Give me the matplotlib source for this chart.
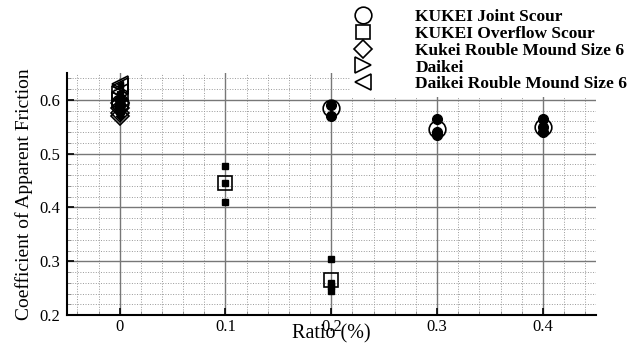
import matplotlib.pyplot as plt
from matplotlib.ticker import MultipleLocator

plt.rcParams['font.family'] = ['Liberation Serif', 'DejaVu Serif']

# mean values (open markers)
joint_x = [0.0, 0.2, 0.3, 0.4]
joint_mean = [0.595, 0.585, 0.545, 0.55]
overflow_x = [0.1, 0.2]
overflow_mean = [0.445, 0.265]
kukei_rm_x = [0.0, 0.0, 0.0, 0.0]
kukei_rm_y = [0.57, 0.575, 0.585, 0.595]
daikei_x = [0.0, 0.0]
daikei_y = [0.60, 0.61]
daikei_rm_x = [0.0, 0.0, 0.0]
daikei_rm_y = [0.615, 0.625, 0.63]

# individual measurements (filled markers)
joint_pts_x = [0.0, 0.0, 0.0, 0.2, 0.2, 0.3, 0.3, 0.3, 0.4, 0.4, 0.4]
joint_pts_y = [0.58, 0.59, 0.60, 0.59, 0.57, 0.565, 0.54, 0.535, 0.565, 0.55, 0.54]
overflow_pts_x = [0.1, 0.1, 0.1, 0.2, 0.2, 0.2, 0.2]
overflow_pts_y = [0.477, 0.445, 0.41, 0.305, 0.26, 0.255, 0.245]

legend_labels = ["KUKEI Joint Scour", "KUKEI Overflow Scour",
                 "Kukei Rouble Mound Size 6", "Daikei",
                 "Daikei Rouble Mound Size 6"]


def main():
    fig = plt.figure(figsize=(6.42, 3.49), dpi=100)
    ax = fig.add_axes([0.104, 0.097, 0.824, 0.694])

    ax.set_xlim(-0.05, 0.45)
    ax.set_ylim(0.2, 0.65)
    ax.xaxis.set_major_locator(MultipleLocator(0.1))
    ax.xaxis.set_minor_locator(MultipleLocator(0.02))
    ax.yaxis.set_major_locator(MultipleLocator(0.1))
    ax.yaxis.set_minor_locator(MultipleLocator(0.02))
    ax.set_xticks([0, 0.1, 0.2, 0.3, 0.4])
    ax.set_xticklabels(["0", "0.1", "0.2", "0.3", "0.4"])

    ax.grid(which='major', color='#777777', linewidth=1.0, linestyle='-')
    ax.grid(which='minor', color='#999999', linewidth=0.7, linestyle=':')
    ax.set_axisbelow(True)

    for side in ['top', 'right']:
        ax.spines[side].set_visible(False)
    for side in ['left', 'bottom']:
        ax.spines[side].set_linewidth(1.5)

    ax.tick_params(which='both', direction='in', labelsize=12)
    ax.tick_params(which='major', length=5, width=1.2)
    ax.tick_params(axis='x', which='major', pad=3)
    ax.tick_params(axis='y', which='major', pad=5)
    ax.tick_params(which='minor', length=3, width=0.6, color='#888888')

    # filled individual points
    ax.plot(joint_pts_x, joint_pts_y, 'o', color='black', markersize=7, zorder=3)
    ax.plot(overflow_pts_x, overflow_pts_y, 's', color='black', markersize=5, zorder=3)
    ax.plot(kukei_rm_x, kukei_rm_y, 'D', color='black', markersize=4, zorder=3)
    ax.plot(daikei_x, daikei_y, '>', color='black', markersize=5, zorder=3)
    ax.plot(daikei_rm_x, daikei_rm_y, '<', color='black', markersize=5, zorder=3)

    # open mean markers
    style = dict(linestyle='none', markerfacecolor='none', markeredgecolor='black',
                 markeredgewidth=1.2, zorder=4)
    h1, = ax.plot(joint_x, joint_mean, 'o', markersize=12, **style)
    h2, = ax.plot(overflow_x, overflow_mean, 's', markersize=10, **style)
    h3, = ax.plot(kukei_rm_x, kukei_rm_y, 'D', markersize=9, **style)
    h4, = ax.plot(daikei_x, daikei_y, '>', markersize=11, **style)
    h5, = ax.plot(daikei_rm_x, daikei_rm_y, '<', markersize=11, **style)

    ax.set_xlabel("Ratio (%)", fontsize=14.5, labelpad=-8)
    ax.set_ylabel("Coefficient of Apparent Friction", fontsize=14, labelpad=4)

    leg = fig.legend([h1, h2, h3, h4, h5], legend_labels,
                     loc='upper left', bbox_to_anchor=(0.532, 1.012),
                     prop={'weight': 'bold', 'size': 12.5},
                     handlelength=1.0, handletextpad=2.5, labelspacing=0.04,
                     borderpad=0.25, frameon=True, fancybox=False,
                     facecolor='white', edgecolor='none', framealpha=1.0,
                     markerscale=1.0)
    leg.set_zorder(10)

    fig.savefig("out.png", dpi=100)


if __name__ == "__main__":
    main()
